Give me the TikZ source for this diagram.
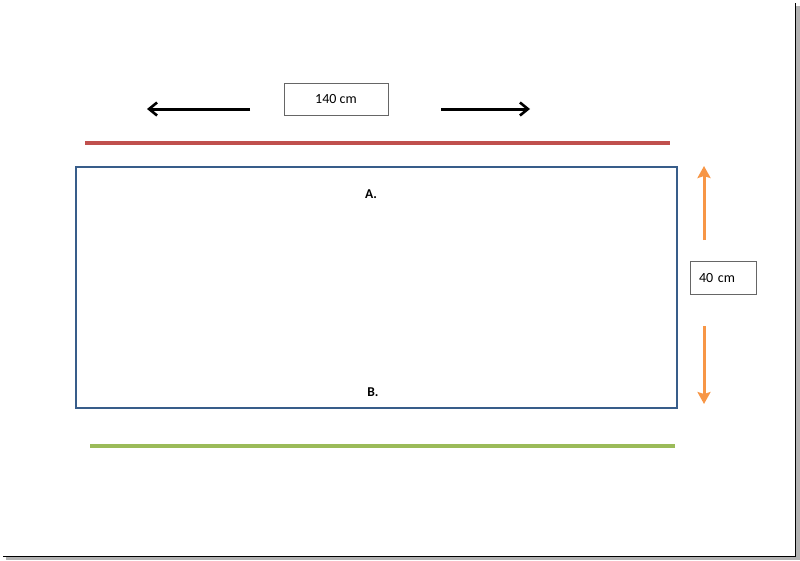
\documentclass[tikz,border=0pt]{standalone}
\usepackage{fontspec}
\setmainfont{Carlito}
\usetikzlibrary{arrows.meta}
\definecolor{redline}{HTML}{C0504D}
\definecolor{greenline}{HTML}{9BBB59}
\definecolor{blueframe}{HTML}{385D8A}
\definecolor{orangearr}{HTML}{F79646}
\tikzset{
  lbox/.style={draw=black!60, line width=0.9pt, minimum width=104pt, minimum height=32pt, inner sep=0pt, font=\fontsize{14}{16}\selectfont},
  blackarr/.style={draw=black, line width=3pt, -{Straight Barb[length=8pt,width=13pt,line width=2.6pt]}},
  orangearrow/.style={draw=orangearr, line width=3pt, -{Stealth[length=12pt,width=13pt,inset=2pt]}},
  band/.style={line width=4pt},
  lettr/.style={font=\bfseries\fontsize{13.5}{15}\selectfont, inner sep=0pt}
}
\begin{document}
\begin{tikzpicture}[x=1pt,y=-1pt]
\useasboundingbox (0,0) rectangle (800,560);
% frame with shadow
\fill[black!30] (6,556) rectangle (800,560);
\fill[black!30] (796,6) rectangle (800,560);
\draw[black, line width=1.2pt] (3,556.5) -- (795.5,556.5) -- (795.5,3);
% width label and arrows
\node[lbox] (w) at (336,99) {140 cm};
\coordinate (wl0) at (250,109);
\coordinate (wl1) at (147,109);
\coordinate (wr0) at (441,109);
\coordinate (wr1) at (530,109);
\draw[blackarr] (wl0) -- (wl1);
\draw[blackarr] (wr0) -- (wr1);
% red line
\coordinate (r0) at (85,142.5);
\coordinate (r1) at (670,142.5);
\draw[band, redline] (r0) -- (r1);
% main rectangle
\node[draw=blueframe, line width=2.2pt, minimum width=601pt, minimum height=241pt, inner sep=0pt] (rect) at (376.5,287.5) {};
\node[lettr] (A) at (371,194) {A.};
\node[lettr] (B) at (373,392) {B.};
% height label and arrows
\node[lbox, minimum width=66pt, minimum height=33pt, inner xsep=9pt, text width=48pt, align=left] (h) at (723,277.5) {40 cm};
\coordinate (hu0) at (704,240);
\coordinate (hu1) at (704,166);
\coordinate (hd0) at (704,326);
\coordinate (hd1) at (704,404);
\draw[orangearrow] (hu0) -- (hu1);
\draw[orangearrow] (hd0) -- (hd1);
% green line
\coordinate (g0) at (90,446);
\coordinate (g1) at (675,446);
\draw[band, greenline] (g0) -- (g1);
\end{tikzpicture}
\end{document}
